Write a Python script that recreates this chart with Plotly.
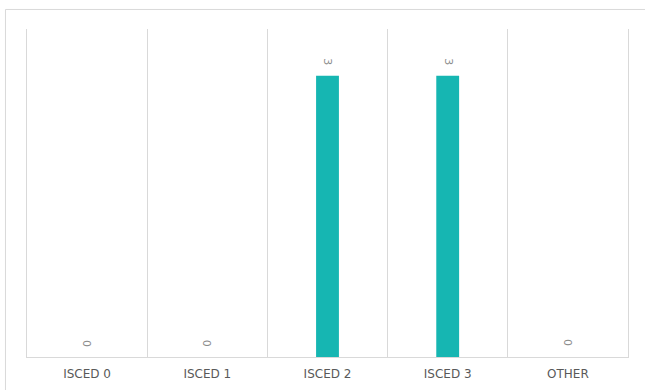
import plotly.graph_objects as go

# Number of respondents by highest education level
categories = ["ISCED 0", "ISCED 1", "ISCED 2", "ISCED 3", "OTHER"]
counts = [0, 0, 3, 3, 0]

BAR_COLOR = "#16B6B2"
GRID_COLOR = "#d9d9d9"
TEXT_COLOR = "#595959"
FONT = "DejaVu Sans"

fig = go.Figure(
    go.Bar(
        x=categories,
        y=counts,
        marker=dict(color=BAR_COLOR, line=dict(width=0)),
        hoverinfo="skip",
    )
)

# Rotated value labels above each bar
for cat, val in zip(categories, counts):
    fig.add_annotation(
        x=cat, y=val, text=str(val), showarrow=False,
        textangle=90, yshift=14,
        font=dict(family=FONT, size=11, color="#8c8c8c"),
    )

# Light frame around the whole chart container
fig.add_shape(
    type="rect", xref="paper", yref="paper",
    x0=-0.0358, y0=-0.15, x1=1.05, y1=1.0595,
    line=dict(color=GRID_COLOR, width=1), fillcolor="rgba(0,0,0,0)",
    layer="below",
)

fig.update_layout(
    width=645, height=390,
    margin=dict(l=27, r=17, t=29, b=33),
    paper_bgcolor="white", plot_bgcolor="white",
    bargap=0.81,
    showlegend=False,
    font=dict(family=FONT, color=TEXT_COLOR),
    xaxis=dict(
        type="category",
        tickson="boundaries",
        automargin=False,
        showgrid=True, gridcolor=GRID_COLOR, gridwidth=1,
        showline=True, linecolor=GRID_COLOR, linewidth=1,
        ticks="", ticklen=0,
        ticklabelstandoff=6,
        tickfont=dict(family=FONT, size=12, color=TEXT_COLOR),
        fixedrange=True,
    ),
    yaxis=dict(
        range=[0, 3.5],
        automargin=False,
        showgrid=False, zeroline=False,
        showline=True, mirror=True, linecolor=GRID_COLOR, linewidth=1,
        showticklabels=False, ticks="",
        fixedrange=True,
    ),
)

fig.write_html("out.html", config={"displayModeBar": False})
